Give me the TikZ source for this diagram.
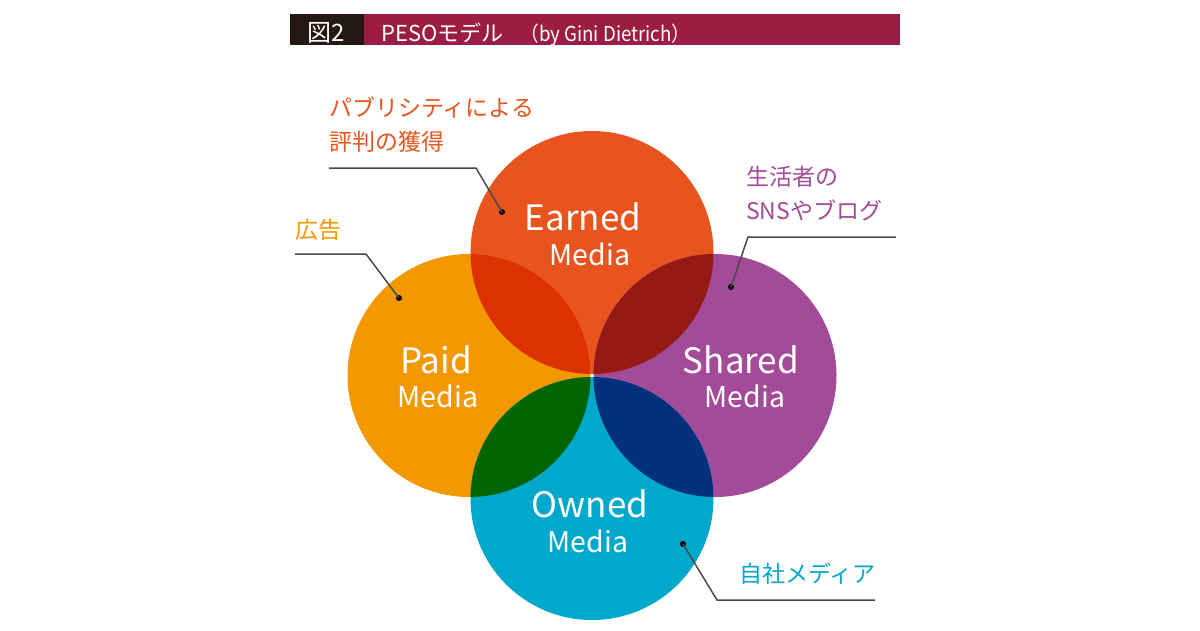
\documentclass[tikz,border=0pt]{standalone}
\usepackage{fontspec}
\setmainfont{Noto Sans CJK JP}
\definecolor{cE}{HTML}{E8541E}
\definecolor{cP}{HTML}{F39800}
\definecolor{cS}{HTML}{A34A98}
\definecolor{cO}{HTML}{00A8CC}
\definecolor{cEP}{HTML}{DD3200}
\definecolor{cES}{HTML}{961A14}
\definecolor{cPO}{HTML}{006400}
\definecolor{cSO}{HTML}{00317A}
\definecolor{barA}{HTML}{231815}
\definecolor{barB}{HTML}{9B1D43}
\definecolor{lead}{HTML}{4A4A4A}
\tikzset{
  media/.style={circle,inner sep=0pt,minimum size=243pt},
  bigt/.style={text=white,anchor=base,inner sep=0pt,font=\fontsize{35}{40}\selectfont},
  smallt/.style={text=white,anchor=base,inner sep=0pt,font=\fontsize{28.5}{32}\selectfont},
  jlabel/.style={anchor=base west,inner sep=0pt,align=left,font=\fontsize{23}{34}\selectfont},
  leader/.style={draw=lead,line width=1.5pt},
  dotn/.style={circle,fill=black,inner sep=0pt,minimum size=6pt},
  titlet/.style={text=white,anchor=base west,inner sep=0pt,font=\fontsize{22}{26}\selectfont}
}
\begin{document}
\begin{tikzpicture}[x=1pt,y=-1pt]
\useasboundingbox[fill=white] (0,0) rectangle (1200,630);
% title bar
\fill[barB] (290,14) rectangle (900,45);
\fill[barA] (290,14) rectangle (364,45);
\node[titlet,font=\fontsize{24}{28}\selectfont] (fig) at (307,41) {図2};
\node[titlet] (ttl) at (381,41) {PESOモデル\hspace{17pt}{\fontsize{20.5}{24}\selectfont\scalebox{0.91}[1]{（by Gini Dietrich）}}};
% circles
\node[media,fill=cE] (E) at (592,252.5) {};
\node[media,fill=cP] (P) at (469,375.5) {};
\node[media,fill=cS] (S) at (715,375.5) {};
\node[media,fill=cO] (O) at (592,498.5) {};
\begin{scope}\clip (E.center) circle (121.5pt); \fill[cEP] (P.center) circle (121.5pt); \fill[cES] (S.center) circle (121.5pt);\end{scope}
\begin{scope}\clip (O.center) circle (121.5pt); \fill[cPO] (P.center) circle (121.5pt); \fill[cSO] (S.center) circle (121.5pt);\end{scope}
% circle texts
\node[bigt] (Et) at (583,230) {Earned};
\node[smallt] (Em) at (590,265) {Media};
\node[bigt] (Pt) at (436,373) {Paid};
\node[smallt] (Pm) at (438,407) {Media};
\node[bigt] (St) at (741,373) {Shared};
\node[smallt] (Sm) at (745,407) {Media};
\node[bigt] (Ot) at (590,517) {Owned};
\node[smallt] (Om) at (588,552) {Media};
% labels
\node[jlabel,text=cE] (El) at (329,150) {パブリシティによる\\評判の獲得};
\node[jlabel,text=cP] (Pl) at (295,238) {広告};
\node[jlabel,text=cS] (Sl) at (746,219) {生活者の\\SNSやブログ};
\node[jlabel,text=cO] (Ol) at (739,582) {自社メディア};
% leaders
\coordinate (e1) at (329,168); \coordinate (e2) at (476,168);
\node[dotn] (ed) at (502,212) {};
\draw[leader] (e1) -- (e2) -- (ed.center);
\coordinate (p1) at (295,254); \coordinate (p2) at (366,254);
\node[dotn] (pd) at (399,298) {};
\draw[leader] (p1) -- (p2) -- (pd.center);
\coordinate (s1) at (896,237); \coordinate (s2) at (748,237);
\node[dotn] (sd) at (731,287) {};
\draw[leader] (s1) -- (s2) -- (sd.center);
\coordinate (o1) at (875,600); \coordinate (o2) at (717,600);
\node[dotn] (od) at (683,544) {};
\draw[leader] (od.center) -- (o2) -- (o1);
\end{tikzpicture}
\end{document}
